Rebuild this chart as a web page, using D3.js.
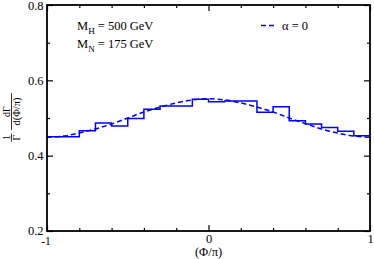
<!DOCTYPE html>
<html>
<head>
<meta charset="utf-8">
<script src="https://cdn.jsdelivr.net/npm/d3@7"></script>
<style>
  body { margin: 0; background: #fff; }
  svg { display: block; }
  svg text { font-family: "Liberation Serif", "Times New Roman", serif; }
</style>
</head>
<body>
<svg id="chart" width="374" height="259"></svg>
<script>
var width = 374;
var height = 259;

// histogram: bin edges and heights
var binEdges = [-1, -0.9, -0.8, -0.7, -0.6, -0.5, -0.4, -0.3, -0.2, -0.1, 0,
                0.1, 0.2, 0.3, 0.4, 0.5, 0.6, 0.7, 0.8, 0.9, 1];
var histValues = [0.450, 0.450, 0.466, 0.487, 0.479, 0.499, 0.523, 0.532, 0.532, 0.550,
                  0.543, 0.545, 0.545, 0.515, 0.530, 0.493, 0.484, 0.475, 0.465, 0.453];

// dashed curve, alpha = 0
var curveX = [-1, -0.9, -0.8, -0.7, -0.6, -0.5, -0.4, -0.3, -0.2, -0.1, 0,
              0.1, 0.2, 0.3, 0.4, 0.5, 0.6, 0.7, 0.8, 0.9, 1];
var curveY = [0.449, 0.452, 0.460, 0.471, 0.484, 0.500, 0.516, 0.529, 0.540, 0.548, 0.551,
              0.548, 0.540, 0.529, 0.516, 0.500, 0.485, 0.471, 0.460, 0.452, 0.449];

var xMajor = [-1, 0, 1];
var xMajorLabels = ["-1", "0", "1"];
var xMinor = [-0.8, -0.6, -0.4, -0.2, 0.2, 0.4, 0.6, 0.8];
var yMajor = [0.2, 0.4, 0.6, 0.8];
var yMajorLabels = ["0.2", "0.4", "0.6", "0.8"];
var yMinor = [0.3, 0.5, 0.7];

var margin = {left: 47, right: 4, top: 5, bottom: 28};

var x = d3.scaleLinear().domain([-1, 1]).range([margin.left, width - margin.right]);
var y = d3.scaleLinear().domain([0.2, 0.8]).range([height - margin.bottom, margin.top]);

var svg = d3.select("#chart");
var blue = "#0000ff";

// histogram as a step line
var steps = [];
histValues.forEach(function(v, i) {
    steps.push([binEdges[i], v]);
    steps.push([binEdges[i + 1], v]);
});
svg.append("path")
    .datum(steps)
    .attr("fill", "none")
    .attr("stroke", blue)
    .attr("stroke-width", 1.5)
    .attr("d", d3.line().x(function(d){ return x(d[0]); }).y(function(d){ return y(d[1]); }));

// dashed curve
svg.append("path")
    .datum(curveX.map(function(v, i){ return [v, curveY[i]]; }))
    .attr("fill", "none")
    .attr("stroke", blue)
    .attr("stroke-width", 1.5)
    .attr("stroke-dasharray", "5,3")
    .attr("d", d3.line().curve(d3.curveCatmullRom)
        .x(function(d){ return x(d[0]); }).y(function(d){ return y(d[1]); }));

// axes: ticks inside, on all four sides
var x0 = x.range()[0], x1 = x.range()[1];
var y0 = y.range()[0], y1 = y.range()[1];

var bottomAxis = svg.append("g").attr("transform", "translate(0," + y0 + ")")
    .call(d3.axisBottom(x).tickValues(xMajor).tickSizeInner(-6).tickSizeOuter(0)
        .tickFormat(function(d, i){ return xMajorLabels[i]; }));
svg.append("g").attr("transform", "translate(0," + y0 + ")")
    .call(d3.axisBottom(x).tickValues(xMinor).tickSizeInner(-3).tickSizeOuter(0).tickFormat(""));
svg.append("g").attr("transform", "translate(0," + y1 + ")")
    .call(d3.axisTop(x).tickValues(xMajor).tickSizeInner(-6).tickSizeOuter(0).tickFormat(""));
svg.append("g").attr("transform", "translate(0," + y1 + ")")
    .call(d3.axisTop(x).tickValues(xMinor).tickSizeInner(-3).tickSizeOuter(0).tickFormat(""));

var leftAxis = svg.append("g").attr("transform", "translate(" + x0 + ",0)")
    .call(d3.axisLeft(y).tickValues(yMajor).tickSizeInner(-6).tickSizeOuter(0)
        .tickFormat(function(d, i){ return yMajorLabels[i]; }));
svg.append("g").attr("transform", "translate(" + x0 + ",0)")
    .call(d3.axisLeft(y).tickValues(yMinor).tickSizeInner(-3).tickSizeOuter(0).tickFormat(""));
svg.append("g").attr("transform", "translate(" + x1 + ",0)")
    .call(d3.axisRight(y).tickValues(yMajor).tickSizeInner(-6).tickSizeOuter(0).tickFormat(""));
svg.append("g").attr("transform", "translate(" + x1 + ",0)")
    .call(d3.axisRight(y).tickValues(yMinor).tickSizeInner(-3).tickSizeOuter(0).tickFormat(""));

svg.selectAll(".domain").remove();
svg.selectAll(".tick line").attr("stroke", "#000").attr("stroke-width", 1.2);
svg.selectAll(".tick text")
    .style("font-family", "'Liberation Serif', 'Times New Roman', serif")
    .style("font-size", "12.5px")
    .attr("fill", "#000");
bottomAxis.selectAll(".tick text").attr("y", 12).attr("dy", null);
bottomAxis.selectAll(".tick text").filter(function(d){ return d === -1; })
    .attr("y", 13.5).style("font-size", "11.5px").attr("dx", -1.5);
leftAxis.selectAll(".tick text").attr("x", -3.5);
leftAxis.selectAll(".tick text").filter(function(d){ return d === 0.2; }).attr("y", -1);

// frame
svg.append("rect")
    .attr("x", x0).attr("y", y1)
    .attr("width", x1 - x0).attr("height", y0 - y1)
    .attr("fill", "none")
    .attr("stroke", "#000")
    .attr("stroke-width", 1.8);

// x label
svg.append("text")
    .attr("x", x(0)).attr("y", 255.5)
    .attr("text-anchor", "middle")
    .style("font-size", "12.5px")
    .text("(\u03A6/\u03C0)");

// y label as two fractions, rotated
var yl = svg.append("g").attr("transform", "translate(11.5,118) rotate(-90)");
yl.append("text").attr("x", -19.5).attr("y", -1.5).attr("text-anchor", "middle").style("font-size", "10px").text("1");
yl.append("line").attr("x1", -23.5).attr("x2", -15.5).attr("y1", 0).attr("y2", 0).attr("stroke", "#000").attr("stroke-width", 0.8);
yl.append("text").attr("x", -19.5).attr("y", 8).attr("text-anchor", "middle").style("font-size", "10px").text("\u0393");
yl.append("text").attr("x", 6.5).attr("y", -1.5).attr("text-anchor", "middle").style("font-size", "10px").text("d\u0393");
yl.append("line").attr("x1", -12).attr("x2", 25).attr("y1", 0).attr("y2", 0).attr("stroke", "#000").attr("stroke-width", 0.8);
yl.append("text").attr("x", 6.5).attr("y", 8).attr("text-anchor", "middle").style("font-size", "10.5px").text("d(\u03A6/\u03C0)");

// annotations
var t1 = svg.append("text").attr("x", 77).attr("y", 30).style("font-size", "12.5px");
t1.append("tspan").text("M");
t1.append("tspan").attr("dy", 4).style("font-size", "9px").text("H");
t1.append("tspan").attr("dy", -4).text(" = 500 GeV");
var t2 = svg.append("text").attr("x", 77).attr("y", 48).style("font-size", "12.5px");
t2.append("tspan").text("M");
t2.append("tspan").attr("dy", 4).style("font-size", "9px").text("N");
t2.append("tspan").attr("dy", -4).text(" = 175 GeV");

// legend
svg.append("line")
    .attr("x1", 261).attr("x2", 275).attr("y1", 25.5).attr("y2", 25.5)
    .attr("stroke", blue).attr("stroke-width", 1.5).attr("stroke-dasharray", "5,3");
svg.append("text").attr("x", 282).attr("y", 29.5).style("font-size", "12.5px").text("\u03B1 = 0");
</script>
</body>
</html>
